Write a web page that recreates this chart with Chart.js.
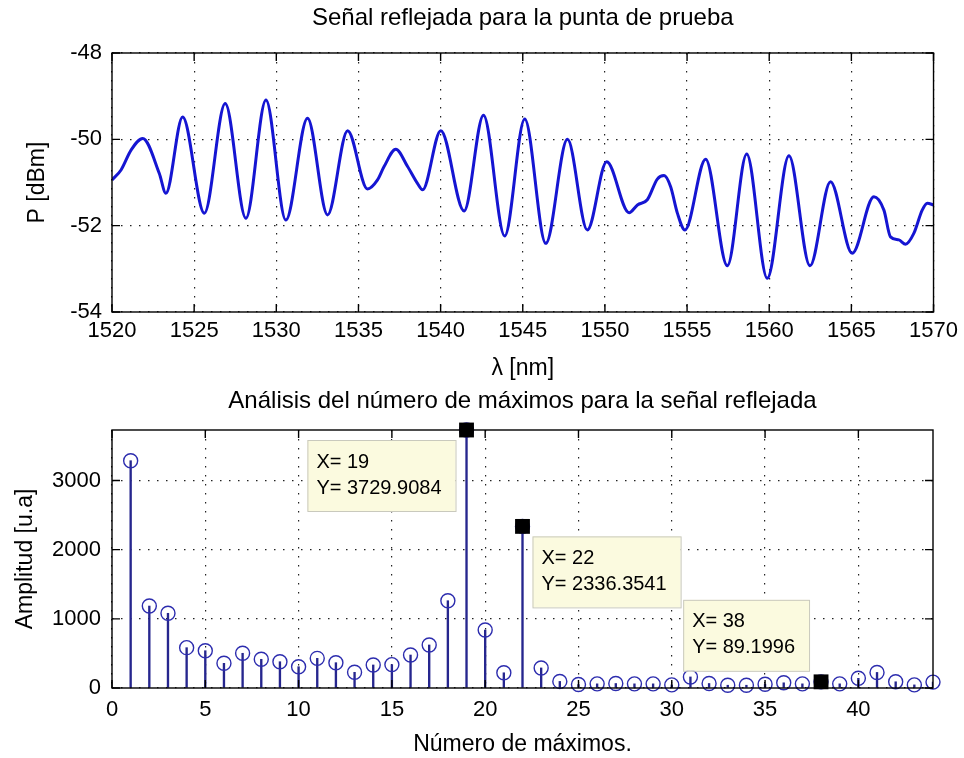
<!DOCTYPE html>
<html>
<head>
<meta charset="utf-8">
<script src="https://cdn.jsdelivr.net/npm/chart.js@4.4.1/dist/chart.umd.min.js"></script>
<style>
  body { margin: 0; background: #fff; }
  #wrap { position: relative; width: 964px; height: 758px; }
  canvas { position: absolute; left: 0; }
</style>
</head>
<body>
<div id="wrap">
  <canvas id="spectrum" width="964" height="386" style="top:0"></canvas>
  <canvas id="maxima" width="964" height="378" style="top:380px"></canvas>
</div>
<script>
// --- 1. DATA ---
const wavelength = [
  1520.00, 1520.55, 1521.16, 1521.87, 1522.88, 1523.28, 1524.30, 1525.62, 1526.89, 1528.15,
  1529.37, 1530.58, 1531.90, 1533.12, 1534.34, 1535.55, 1536.16, 1536.56, 1537.27, 1537.99,
  1538.59, 1538.90, 1540.01, 1541.43, 1542.61, 1543.90, 1545.12, 1546.40, 1547.72, 1548.93,
  1550.11, 1551.47, 1551.98, 1552.58, 1553.19, 1553.60, 1554.00, 1554.41, 1554.87, 1556.13,
  1557.45, 1558.63, 1559.88, 1561.20, 1562.48, 1563.73, 1565.05, 1566.37, 1566.98, 1567.38,
  1567.89, 1568.30, 1568.80, 1569.31, 1569.62, 1570.00
];
const power = [
  -50.94, -50.71, -50.25, -49.98, -50.79, -51.25, -49.48, -51.71, -49.17, -51.83,
  -49.09, -51.87, -49.51, -51.75, -49.80, -51.15, -50.94, -50.63, -50.23, -50.63,
  -51.02, -51.17, -49.80, -51.66, -49.44, -52.24, -49.53, -52.41, -50.00, -52.10,
  -50.52, -51.70, -51.52, -51.40, -50.92, -50.84, -51.10, -51.71, -52.10, -50.46,
  -52.93, -50.34, -53.22, -50.38, -52.93, -50.98, -52.64, -51.33, -51.64, -52.26,
  -52.33, -52.43, -52.18, -51.64, -51.48, -51.52
];
const specXTicks = [1520, 1525, 1530, 1535, 1540, 1545, 1550, 1555, 1560, 1565, 1570];
const specYTicks = [-54, -52, -50, -48];

const maxNumber = [
  1, 2, 3, 4, 5, 6, 7, 8, 9, 10, 11, 12, 13, 14, 15, 16, 17, 18, 19, 20, 21, 22,
  23, 24, 25, 26, 27, 28, 29, 30, 31, 32, 33, 34, 35, 36, 37, 38, 39, 40, 41, 42, 43, 44
];
const amplitude = [
  3286, 1185, 1080, 583, 539, 357, 502, 415, 380, 308, 429, 366, 227, 333, 338, 477, 622, 1262,
  3729.9084, 838, 220, 2336.3541, 290, 95, 50, 60, 65, 60, 60, 45, 160, 65, 40, 40, 55, 75, 60,
  89.1996, 60, 140, 225, 90, 45, 85
];
const ampXTicks = [0, 5, 10, 15, 20, 25, 30, 35, 40];
const ampYTicks = [0, 1000, 2000, 3000];

const tipX = [19, 22, 38];
const tipY = [3729.9084, 2336.3541, 89.1996];

// --- 2. LOOK ---
const FONT = '"Liberation Sans", Arial, sans-serif';
Chart.defaults.color = '#000';
Chart.defaults.font.family = FONT;

const gridOpts = { color: '#222', lineWidth: 1.2, drawTicks: false };
const borderOpts = { display: false, dash: [1.5, 7.5] };
const plain = v => String(v);

// box round the plot plus inward tick marks on all four sides
const frame = {
  id: 'frame',
  afterDatasetsDraw(chart) {
    const { ctx, chartArea: a, scales: { x, y } } = chart;
    ctx.save();
    ctx.strokeStyle = '#000';
    ctx.lineWidth = 1.4;
    ctx.setLineDash([]);
    ctx.strokeRect(a.left, a.top, a.right - a.left, a.bottom - a.top);
    ctx.beginPath();
    x.ticks.forEach(t => {
      const p = x.getPixelForValue(t.value);
      ctx.moveTo(p, a.bottom); ctx.lineTo(p, a.bottom - 8);
      ctx.moveTo(p, a.top); ctx.lineTo(p, a.top + 8);
    });
    y.ticks.forEach(t => {
      const p = y.getPixelForValue(t.value);
      ctx.moveTo(a.left, p); ctx.lineTo(a.left + 8, p);
      ctx.moveTo(a.right, p); ctx.lineTo(a.right - 8, p);
    });
    ctx.stroke();
    ctx.restore();
  }
};

// data cursor boxes (where each box sits next to its point)
const tipPlace = [
  { dx: -11, dy: 10, side: 'left', vert: 'below' },
  { dx: 10, dy: 10, side: 'right', vert: 'below' },
  { dx: -12, dy: -11, side: 'left', vert: 'above' }
];
const dataTips = {
  id: 'dataTips',
  afterDraw(chart) {
    const { ctx, scales: { x, y } } = chart;
    ctx.save();
    ctx.font = '20px ' + FONT;
    ctx.textBaseline = 'middle';
    tipX.forEach((xv, i) => {
      const px = x.getPixelForValue(xv);
      const py = y.getPixelForValue(tipY[i]);
      const l1 = 'X= ' + xv;
      const l2 = 'Y= ' + tipY[i].toFixed(4);
      const w = Math.max(ctx.measureText(l1).width, ctx.measureText(l2).width) + 23;
      const h = 71;
      const p = tipPlace[i];
      const left = p.side === 'left' ? px + p.dx - w : px + p.dx;
      const top = p.vert === 'below' ? py + p.dy : py + p.dy - h;
      ctx.fillStyle = '#fbfadf';
      ctx.strokeStyle = '#c9c9bd';
      ctx.lineWidth = 1;
      ctx.fillRect(left, top, w, h);
      ctx.strokeRect(left + 0.5, top + 0.5, w, h);
      ctx.fillStyle = '#000';
      ctx.fillText(l1, left + 9, top + 22);
      ctx.fillText(l2, left + 9, top + 48);
    });
    ctx.restore();
  }
};

// --- 3. TOP CHART: reflected signal ---
new Chart(document.getElementById('spectrum'), {
  type: 'line',
  data: {
    datasets: [{
      data: wavelength.map((w, i) => ({ x: w, y: power[i] })),
      borderColor: '#1515d2',
      borderWidth: 3,
      pointRadius: 0,
      cubicInterpolationMode: 'monotone'
    }]
  },
  options: {
    responsive: false,
    animation: false,
    devicePixelRatio: 1,
    layout: { padding: { left: 0, right: 30, top: 0, bottom: 0 }, autoPadding: false },
    plugins: {
      legend: { display: false },
      tooltip: { enabled: false },
      title: {
        display: true,
        fullSize: false,
        text: 'Señal reflejada para la punta de prueba',
        font: { size: 24, weight: 'normal' },
        padding: { top: 3.6, bottom: 20.6 }
      }
    },
    scales: {
      x: {
        type: 'linear', min: 1520, max: 1570,
        afterBuildTicks: s => { s.ticks = specXTicks.map(v => ({ value: v })); },
        afterFit: s => { s.height = 74; },
        ticks: { font: { size: 22 }, padding: 6, maxRotation: 0, callback: plain },
        grid: gridOpts, border: borderOpts,
        title: { display: true, text: 'λ [nm]', font: { size: 23 }, padding: { top: 0, bottom: 4 } }
      },
      y: {
        min: -54, max: -48,
        afterBuildTicks: s => { s.ticks = specYTicks.map(v => ({ value: v })); },
        afterFit: s => { s.width = 112; },
        ticks: { font: { size: 22 }, padding: 10, callback: plain },
        grid: gridOpts, border: borderOpts,
        title: { display: true, text: 'P [dBm]', font: { size: 23 }, padding: { top: 24, bottom: 0 } }
      }
    }
  },
  plugins: [frame]
});

// --- 4. BOTTOM CHART: number of maxima (stem plot) ---
new Chart(document.getElementById('maxima'), {
  type: 'bar',
  data: {
    datasets: [
      {
        type: 'line',
        data: tipX.map((v, i) => ({ x: v, y: tipY[i] })),
        showLine: false,
        pointStyle: 'rect',
        pointRadius: 10.5,
        pointBackgroundColor: '#000',
        pointBorderColor: '#000',
        pointBorderWidth: 0,
        clip: false,
        order: 0
      },
      {
        type: 'line',
        data: maxNumber.map((n, i) => ({ x: n, y: amplitude[i] })),
        showLine: false,
        pointRadius: 7,
        pointBorderWidth: 1.4,
        pointBorderColor: '#2c2cae',
        pointBackgroundColor: 'rgba(0,0,0,0)',
        clip: false,
        order: 1
      },
      {
        data: maxNumber.map((n, i) => ({ x: n, y: amplitude[i] })),
        backgroundColor: '#26268e',
        barThickness: 1.7,
        borderWidth: 0,
        order: 2
      }
    ]
  },
  options: {
    responsive: false,
    animation: false,
    devicePixelRatio: 1,
    layout: { padding: { left: 0, right: 31, top: 0, bottom: 0 }, autoPadding: false },
    plugins: {
      legend: { display: false },
      tooltip: { enabled: false },
      title: {
        display: true,
        fullSize: false,
        text: 'Análisis del número de máximos para la señal reflejada',
        font: { size: 24, weight: 'normal' },
        padding: { top: 7.3, bottom: 13.9 }
      }
    },
    scales: {
      x: {
        type: 'linear', min: 0, max: 44, offset: false,
        afterBuildTicks: s => { s.ticks = ampXTicks.map(v => ({ value: v })); },
        afterFit: s => { s.height = 70; },
        ticks: { font: { size: 22 }, padding: 9, maxRotation: 0, callback: plain },
        grid: { ...gridOpts, offset: false }, border: borderOpts,
        title: { display: true, text: 'Número de máximos.', font: { size: 23 }, padding: { top: 0, bottom: 0 } }
      },
      y: {
        min: 0, max: 3729.9084,
        afterBuildTicks: s => { s.ticks = ampYTicks.map(v => ({ value: v })); },
        afterFit: s => { s.width = 112; },
        ticks: { font: { size: 22 }, padding: 11, callback: plain },
        grid: gridOpts, border: borderOpts,
        title: { display: true, text: 'Amplitud [u.a]', font: { size: 23 }, padding: { top: 12, bottom: 0 } }
      }
    }
  },
  plugins: [frame, dataTips]
});
</script>
</body>
</html>
